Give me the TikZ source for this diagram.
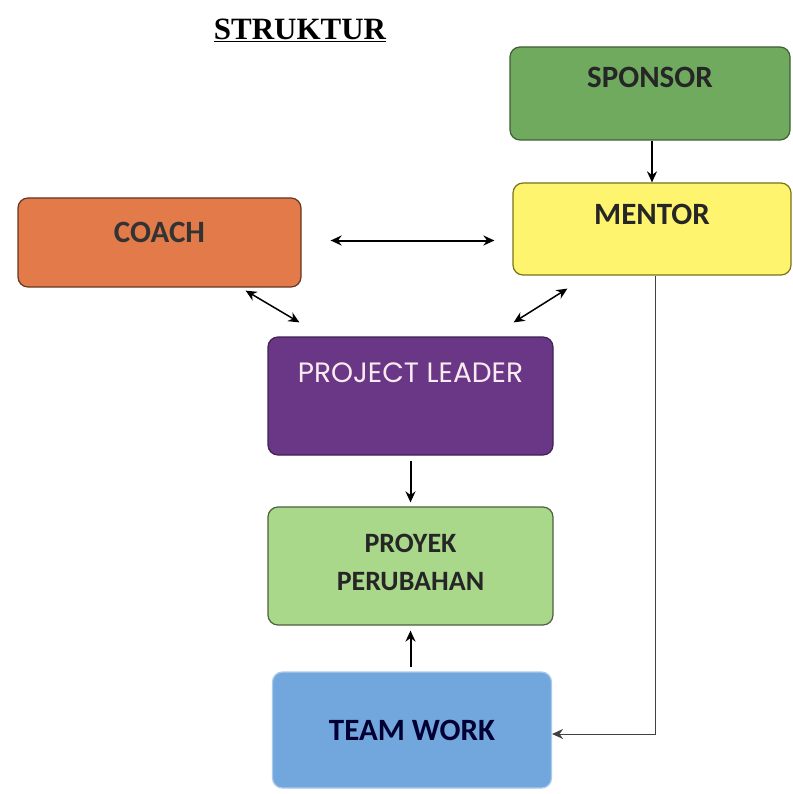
\documentclass[tikz,border=0pt]{standalone}
\usepackage{fontspec}
\setmainfont{Liberation Serif}
\setsansfont{Carlito}
\newfontfamily\leaderfont{Poppins}
\usepackage{tikz}
\usetikzlibrary{calc, positioning}
\usetikzlibrary{arrows.meta}
\tikzset{>={Stealth[length=11pt,width=10pt]}}
\definecolor{sponsorgreen}{HTML}{70AA5F}
\definecolor{mentoryellow}{HTML}{FFF46E}
\definecolor{coachorange}{HTML}{E27A4A}
\definecolor{leaderpurple}{HTML}{6A3787}
\definecolor{proyekgreen}{HTML}{A9D88A}
\definecolor{teamblue}{HTML}{72A7DE}
\tikzset{
  box/.style={rectangle, rounded corners=10pt, line width=1.2pt, align=center,
    font=\sffamily\bfseries\fontsize{31}{37}\selectfont, text height=20pt},
  lift/.style={text depth=#1},
  link/.style={line width=2pt, ->},
  biglink/.style={line width=2pt, <->}
}

\begin{document}
\begin{tikzpicture}[x=1pt,y=-1pt]
			\useasboundingbox (0,0) rectangle (792,794);
			\node (title) at (300,30) {\fontsize{31}{36}\selectfont\bfseries\underline{STRUKTUR}};
			\node [box,lift=31pt,fill=sponsorgreen,draw=sponsorgreen!55!black,minimum width=280pt,minimum height=93pt,text=black!85] (sponsor) at (650,93.5) {SPONSOR};
			\node [box,lift=29pt,fill=mentoryellow,draw=olive!80!black,minimum width=278pt,minimum height=92pt,text=black!85] (mentor) at (652,229) {MENTOR};
			\node [box,lift=19pt,fill=coachorange,draw=coachorange!45!black,minimum width=283pt,minimum height=89pt,text=black!80] (coach) at (159.5,242.5) {COACH};
			\node [box,lift=48pt,fill=leaderpurple,draw=leaderpurple!60!black,minimum width=285pt,minimum height=118pt,text=white!92!purple,font=\leaderfont\fontsize{28}{33}\selectfont] (leader) at (410.5,396) {PROJECT LEADER};
			\node [box,text height=49pt,lift=0pt,fill=proyekgreen,draw=proyekgreen!45!black,minimum width=285pt,minimum height=118pt,text=black!85,font=\sffamily\bfseries\fontsize{28}{38}\selectfont] (proyek) at (410.5,566) {PROYEK\\PERUBAHAN};
			\node [box,lift=0pt,fill=teamblue,draw=teamblue!60!white,minimum width=279pt,minimum height=116pt,text=black!80!blue] (team) at (412,730) {TEAM WORK};
			\draw [link] (sponsor.south -| mentor) -- (mentor.north);
			\draw [biglink,shorten <=29pt,shorten >=18pt] ([yshift=2pt]coach.east) -- ([yshift=2pt]coach.east -| mentor.west);
			\draw [<->,line width=1.5pt] ([shift={(-56,3)}]coach.south east) -- ([shift={(32,-14)}]leader.north west);
			\draw [<->,line width=1.5pt] ([shift={(55,13)}]mentor.south west) -- ([shift={(-40,-14)}]leader.north east);
			\draw [link,shorten <=5pt,shorten >=4pt] (leader.south) -- (proyek.north);
			\draw [link,shorten <=4pt,shorten >=5pt] (team.north -| proyek) -- (proyek.south);
			\draw [->,line width=1pt,black!75] ([xshift=3pt]mentor.south) |- ([yshift=-4pt]team.east);
		\end{tikzpicture}
\end{document}
